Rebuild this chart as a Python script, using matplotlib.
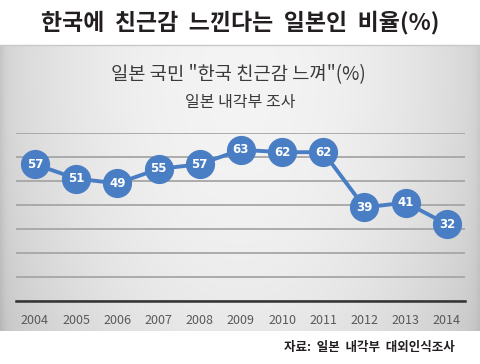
import numpy as np
import matplotlib
matplotlib.use('Agg')
from matplotlib import pyplot as plt

plt.rcParams['font.family'] = ['Noto Sans CJK KR', 'DejaVu Sans']

years = ['2004', '2005', '2006', '2007', '2008', '2009', '2010', '2011', '2012', '2013', '2014']
values = [57, 51, 49, 55, 57, 63, 62, 62, 39, 41, 32]

title = '한국에  친근감  느낀다는  일본인  비율(%)'
chart_title = '일본 국민 "한국 친근감 느껴"(%)'
subtitle = '일본 내각부 조사'
source = '자료:  일본  내각부  대외인식조사'

W, H = 480, 364
fig = plt.figure(figsize=(W / 100, H / 100), dpi=100)
fig.patch.set_facecolor('white')

# background layer in pixel coordinates
bg = fig.add_axes([0, 0, 1, 1])
bg.set_xlim(0, W)
bg.set_ylim(H, 0)
bg.axis('off')

# grey gradient panel
px0, px1, py0, py1 = 0, 480, 45, 331
gx = np.linspace(-1, 1, 300)
gy = np.linspace(0, 1, 200)
X, Y = np.meshgrid(gx, gy)
d = np.sqrt((X * 1.0) ** 2 + ((Y - 0.1) * 0.7) ** 2)
shade = 0.955 - 0.12 * np.clip(d, 0, 1.3) ** 2.2
edge = np.exp(-(X + 1) * 60) * 0.06 + np.exp(-(1 - X) * 60) * 0.04
shade = shade - edge
panel = np.dstack([shade, shade, shade])
bg.imshow(panel, extent=(px0, px1, py1, py0), aspect='auto', interpolation='bilinear', zorder=0)
bg.plot([px0, px1], [py0, py0], color='#c8c8c8', lw=1, zorder=1)

bg.text(240, 22, title, ha='center', va='center', fontsize=16.5, fontweight='bold', color='#231f20')
bg.text(238, 75, chart_title, ha='center', va='center', fontsize=13.5, color='#3a3a3a')
bg.text(240, 103, subtitle, ha='center', va='center', fontsize=11.5, color='#3a3a3a')
bg.text(455, 348, source, ha='right', va='center', fontsize=9, fontweight='bold', color='#231f20')

# chart area: x from 16 to 465 px, y from 133 (70) to 301 (0)
left, right = 16 / W, 465 / W
bottom, top = 1 - 301 / H, 1 - 133 / H
ax = fig.add_axes([left, bottom, right - left, top - bottom])
ax.patch.set_alpha(0)
x = np.arange(len(years))
ax.set_xlim(-0.46, len(years) - 0.56)
ax.set_ylim(0, 70)
ax.set_yticks(np.arange(0, 71, 10))
ax.yaxis.grid(True, color='#a6a6a6', lw=1.3)
ax.set_axisbelow(True)
for s in ['top', 'right', 'left']:
    ax.spines[s].set_visible(False)
ax.spines['bottom'].set_color('#333333')
ax.spines['bottom'].set_linewidth(1.8)
ax.tick_params(axis='y', left=False, labelleft=False)
ax.tick_params(axis='x', length=0, pad=9, labelsize=9, labelcolor='#595959')
ax.set_xticks(x)
ax.set_xticklabels(years)

ax.plot(x, values, color='#4a7ec4', lw=2.8, marker='o', markersize=20,
        markerfacecolor='#4a7ec4', markeredgecolor='#4a7ec4', zorder=3, clip_on=False)
for xi, v in zip(x, values):
    ax.text(xi, v, str(v), ha='center', va='center', fontsize=8.5, fontweight='bold',
            color='white', zorder=4, family=['DejaVu Sans'])

fig.savefig('out.png', dpi=100)
